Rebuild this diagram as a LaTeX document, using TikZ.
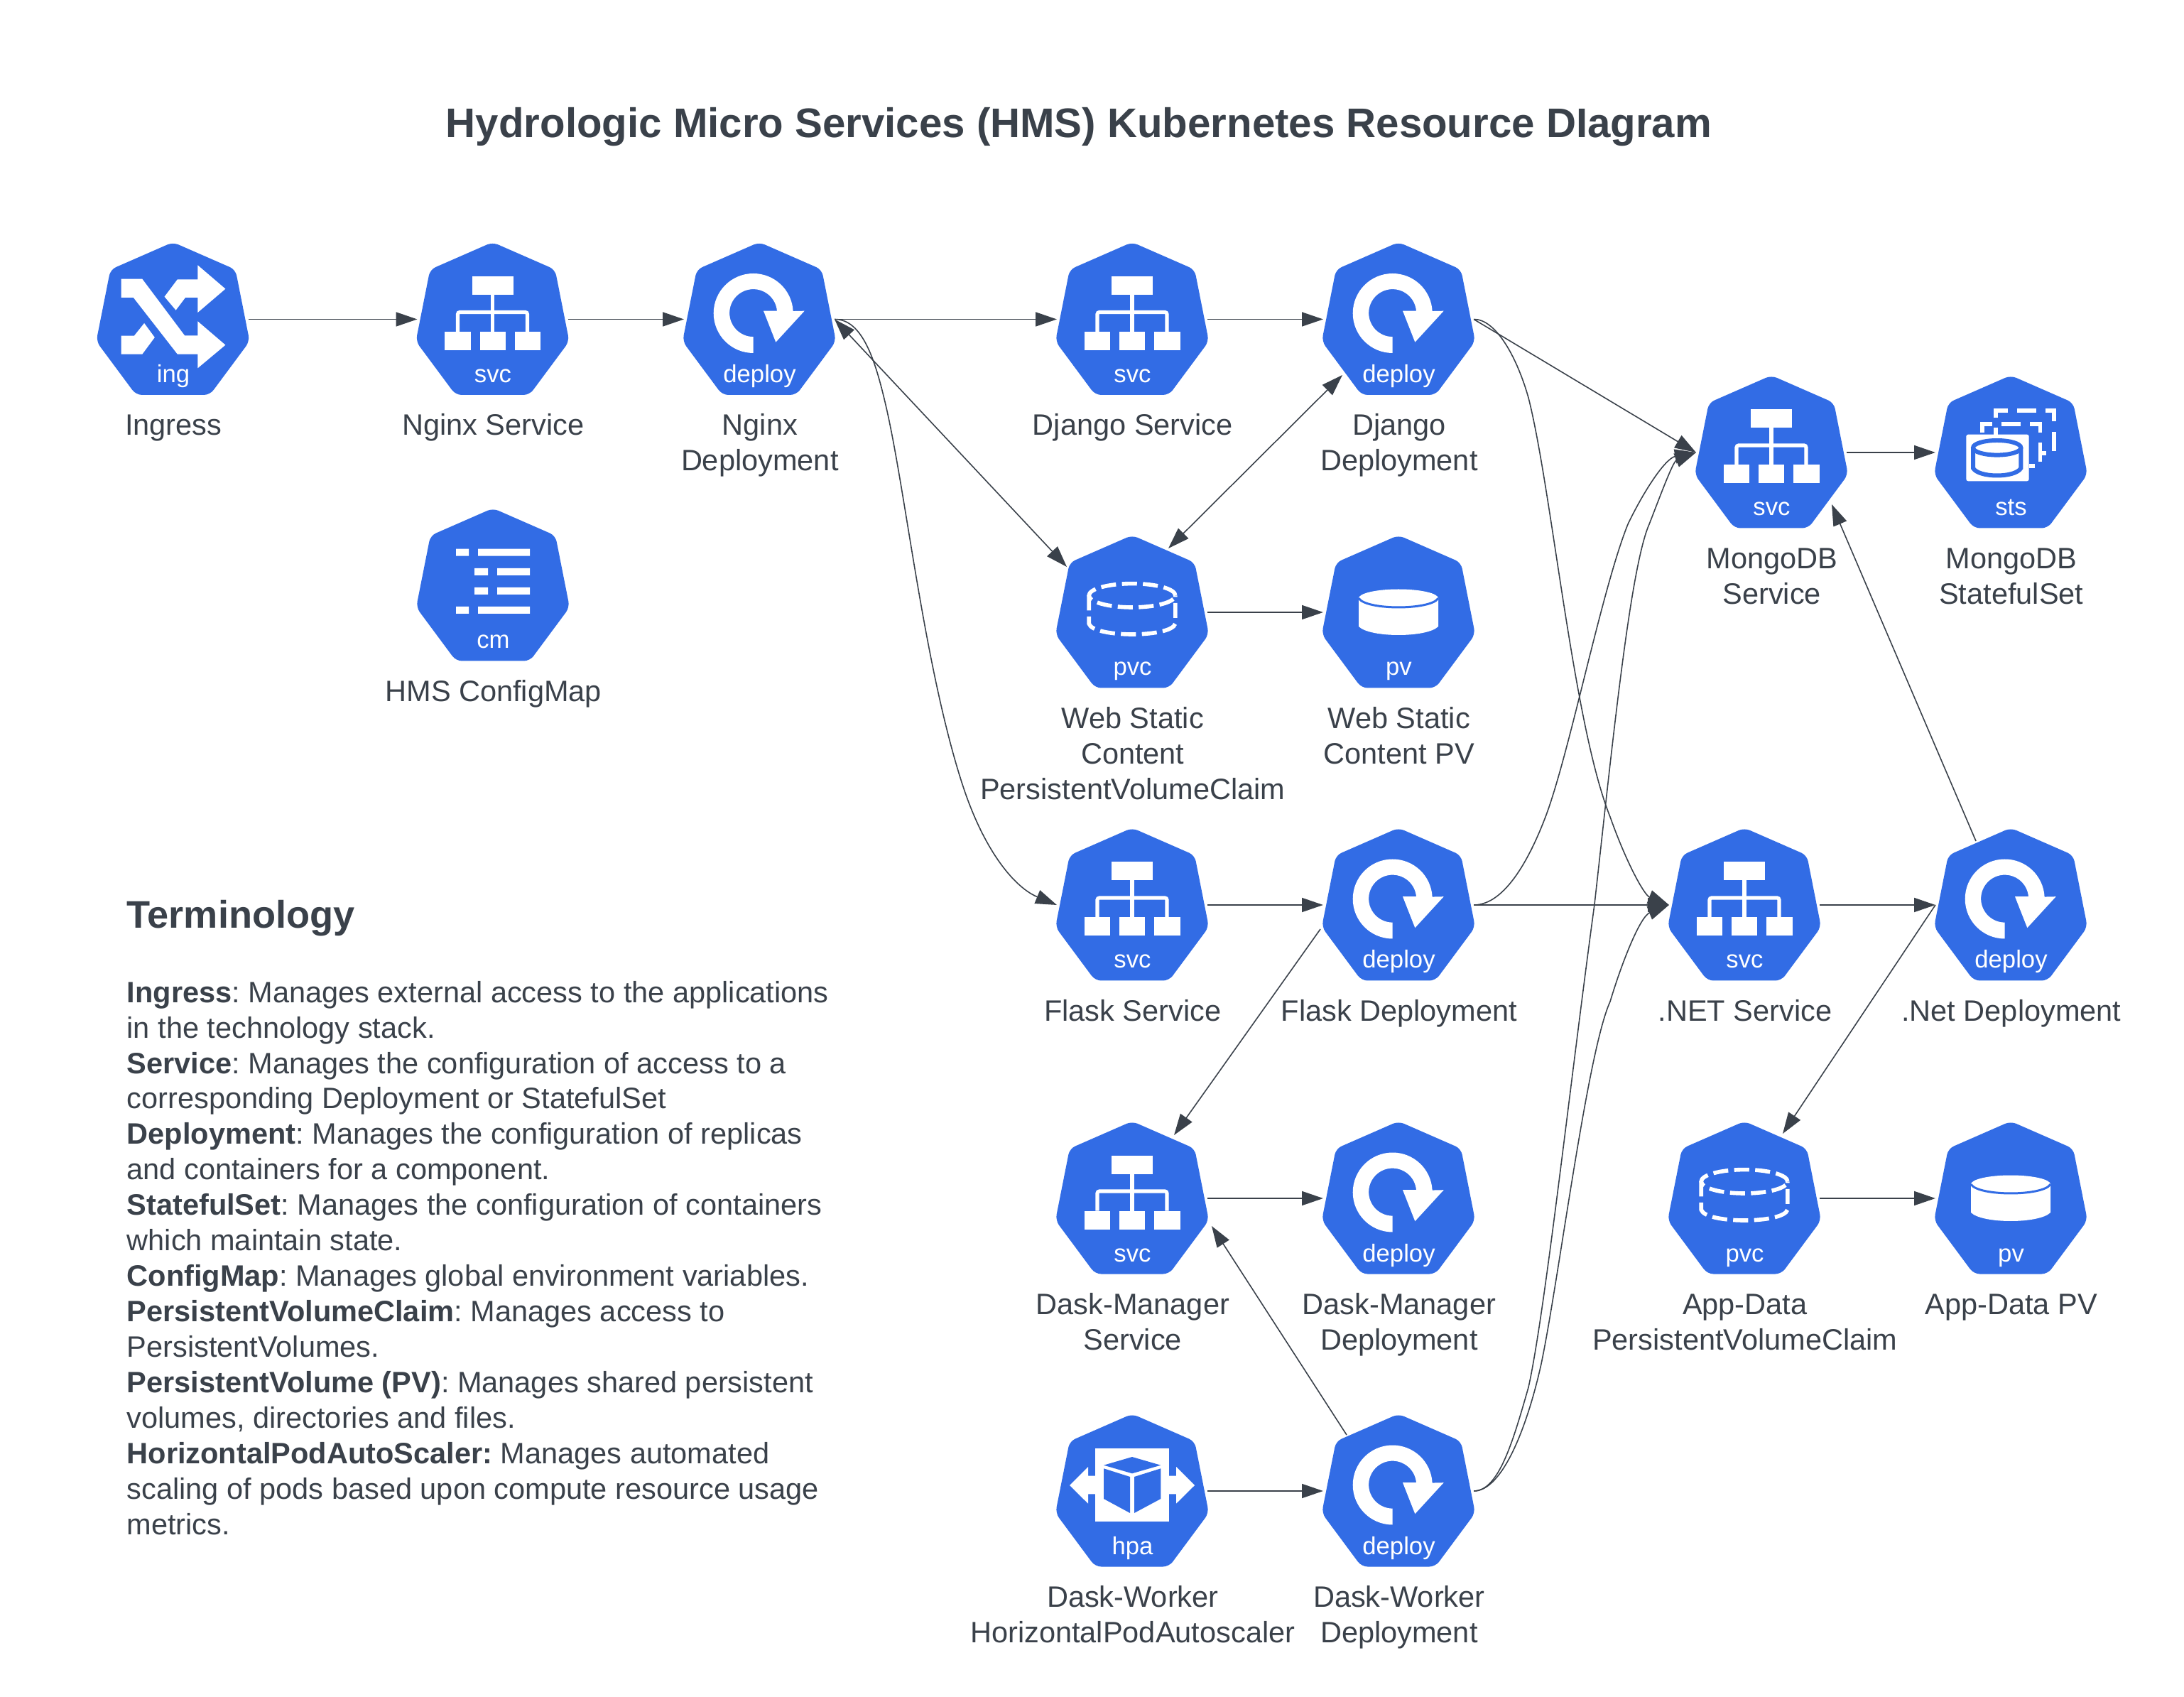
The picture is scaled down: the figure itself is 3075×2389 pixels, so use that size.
\documentclass[tikz,border=0pt]{standalone}
\usepackage{fontspec}
\setmainfont{Liberation Sans}
\usetikzlibrary{arrows.meta,calc}
\definecolor{kblue}{HTML}{326CE5}
\definecolor{ink}{HTML}{3A414A}
\tikzset{
  hexbox/.style={minimum width=2.12cm,minimum height=2.13cm,inner sep=0pt,outer sep=0pt},
  tagtext/.style={text=white,anchor=base,inner sep=0pt,font=\fontsize{9.87pt}{11pt}\selectfont},
  labeltext/.style={text=ink,anchor=north,inner sep=0pt,align=center,font=\fontsize{11.81pt}{14.2pt}\selectfont},
  conn/.style={draw=ink,line width=0.45pt,-{Triangle[length=8.5pt,width=5.7pt]}},
  conntwo/.style={draw=ink,line width=0.45pt,{Triangle[length=8.5pt,width=5.7pt]}-{Triangle[length=8.5pt,width=5.7pt]}},
  iconline/.style={draw=white,line width=1.6pt},
}
\newcommand{\hexshape}{\fill[kblue,rounded corners=2.4pt] (0,-108.5) -- (88,-70) -- (108,31) -- (52,106.5) -- (-52,106.5) -- (-108,31) -- (-88,-70) -- cycle;}
\newcommand{\iconsvc}{%
  \fill[white] (-29,-60.5) rectangle (29,-34.5);
  \fill[white] (-67.5,17.5) rectangle (-31,43.5);
  \fill[white] (-18,17.5) rectangle (18,43.5);
  \fill[white] (31,17.5) rectangle (67.5,43.5);
  \draw[white,line width=1.45pt] (0,-34.5) -- (0,17.5);
  \draw[white,line width=1.45pt,rounded corners=0.8pt] (-49,17.5) -- (-49,-10) -- (49,-10) -- (49,17.5);
}
\newcommand{\icondeploy}{%
  \fill[white] (-8.3,47.5) arc[start angle=90,end angle=357,radius=56] -- (63.7,-11.8) -- (23.3,32.2) -- (6,-11.8) -- (25,-11.8) arc[start angle=355,end angle=90,radius=33.5] -- cycle;
}
\newcommand{\iconing}{%
  \fill[white] (-73,-56.8) -- (-43.2,-56.8) -- (16.5,22.8) -- (34.9,22.8) -- (34.9,2.8) -- (73.9,36.2) -- (34.9,68.8) -- (34.9,49.2) -- (6.4,49.2) -- (-55.6,-30.5) -- (-73,-30.5) -- cycle;
  \fill[white] (-11.9,-31.8) -- (6.4,-56.2) -- (34.9,-56.2) -- (34.9,-76.2) -- (73.9,-42.8) -- (34.9,-9.5) -- (34.9,-30.5) -- (17.4,-30.5) -- (4.1,-12.8) -- cycle;
  \fill[white] (-73,23.2) -- (-54.6,23.2) -- (-40.4,5.5) -- (-25.7,25.5) -- (-43.2,49.2) -- (-73,49.2) -- cycle;
}
\newcommand{\iconcm}{%
  \fill[white] (-52,-51.3) rectangle (-34,-41.3) (-21,-51.3) rectangle (52,-41.3);
  \fill[white] (-26,-24) rectangle (-7,-14) (6,-24) rectangle (52,-14);
  \fill[white] (-26,3) rectangle (-7,13) (6,3) rectangle (52,13);
  \fill[white] (-52,30) rectangle (-34,40) (-21,30) rectangle (52,40);
}
\newcommand{\iconpvc}{%
  \draw[white,line width=1.6pt,dash pattern=on 6pt off 2.4pt] (0,-23.7) ellipse [x radius=60.8,y radius=-16.7];
  \draw[white,line width=1.6pt,dash pattern=on 6pt off 2.4pt] (-60.8,-23.7) -- (-60.8,16) .. controls (-55,36) and (55,36) .. (60.8,16) -- (60.8,-23.7);
}
\newcommand{\iconpv}{%
  \fill[white] (-56,-19.7) -- (-56,20) .. controls (-40,36) and (40,36) .. (56,20) -- (56,-19.7) -- cycle;
  \fill[white] (0,-19.7) ellipse [x radius=56,y radius=-12.8];
  \draw[kblue,line width=0.85pt] (-56,-19.7) .. controls (-45,-2.8) and (45,-2.8) .. (56,-19.7);
}
\newcommand{\iconhpa}{%
  \fill[white] (-52,-59.7) rectangle (52,43);
  \fill[white] (-88,-8) -- (-62,-34) -- (-62,-21.3) -- (-52,-21.3) -- (-52,4.3) -- (-62,4.3) -- (-62,17.7) -- cycle;
  \fill[white] (88,-8) -- (62,-34) -- (62,-21.3) -- (52,-21.3) -- (52,4.3) -- (62,4.3) -- (62,17.7) -- cycle;
  \fill[kblue] (0,-48) -- (40.3,-36.3) -- (0,-24.7) -- (-40,-36.3) -- cycle;
  \fill[kblue] (-40,-31.7) -- (-3,-20) -- (-3,31) -- (-40,11) -- cycle;
  \fill[kblue] (3,-20) -- (40.3,-31.7) -- (40.3,11) -- (3,31) -- cycle;
}
\newcommand{\iconsts}{%
  \fill[white,rounded corners=0.8pt] (-62.7,-25.3) rectangle (25.7,40.3);
  \draw[kblue,line width=1.7pt] (-53,-6.7) -- (-53,22) .. controls (-45,36) and (6.5,36) .. (14.4,22) -- (14.4,-6.7);
  \draw[kblue,line width=1.7pt] (-19.3,-6.7) ellipse [x radius=33.7,y radius=-10.3];
  \draw[iconline] (-40.3,-28) -- (-40.3,-40.3) -- (-26,-40.3);
  \draw[iconline] (-21,-35.3) -- (-21,-25.3);
  \draw[iconline] (-12.7,-40.3) -- (14,-40.3);
  \draw[iconline] (27.3,-40.3) -- (41.3,-40.3) -- (41.3,-28);
  \draw[iconline] (41.3,-13.7) -- (41.3,13);
  \draw[iconline] (25.7,18.7) -- (34,18.7);
  \draw[iconline] (41.3,0.7) -- (50,0.7);
  \draw[iconline] (-21,-48.7) -- (-21,-58.7) -- (-4.3,-58.7);
  \draw[iconline] (9,-58.7) -- (35.7,-58.7);
  \draw[iconline] (49,-58.7) -- (60.7,-58.7) -- (60.7,-43.7);
  \draw[iconline] (60.7,-28.7) -- (60.7,-2);
}
% name, x, y, icon, tag, label
\newcommand{\kube}[6]{%
  \node[hexbox] (#1) at (#2,#3) {};
  \begin{scope}[shift={(#2,#3)}]
    \hexshape
    #4
    \node[tagtext] (#1-tag) at (0.5,89) {#5};
    \node[labeltext] (#1-label) at (0.8,127.5) {\strut #6};
  \end{scope}
}
\begin{document}
\frenchspacing
\begin{tikzpicture}[x=0.01cm,y=-0.01cm]
\useasboundingbox (0,0) rectangle (3075,2389);
\fill[white] (0,0) rectangle (3075,2389);
\node[text=ink,anchor=base,inner sep=0pt,font=\fontsize{16.55pt}{20pt}\selectfont\bfseries] (title) at (1519,194) {Hydrologic Micro Services (HMS) Kubernetes Resource DIagram};
\kube{ing}{243.5}{449.5}{\iconing}{ing}{Ingress}
\kube{ngsvc}{693.5}{449.5}{\iconsvc}{svc}{Nginx Service}
\kube{ngdep}{1069}{449.5}{\icondeploy}{deploy}{Nginx\\Deployment}
\kube{djsvc}{1594}{449.5}{\iconsvc}{svc}{Django Service}
\kube{djdep}{1969}{449.5}{\icondeploy}{deploy}{Django\\Deployment}
\kube{cm}{694}{824}{\iconcm}{cm}{HMS ConfigMap}
\kube{webpvc}{1594}{862}{\iconpvc}{pvc}{Web Static\\Content\\PersistentVolumeClaim}
\kube{webpv}{1969}{862}{\iconpv}{pv}{Web Static\\Content PV}
\kube{mgsvc}{2494}{637}{\iconsvc}{svc}{MongoDB\\Service}
\kube{mgsts}{2831}{637}{\iconsts}{sts}{MongoDB\\StatefulSet}
\kube{flsvc}{1594}{1274}{\iconsvc}{svc}{Flask Service}
\kube{fldep}{1969}{1274}{\icondeploy}{deploy}{Flask Deployment}
\kube{ntsvc}{2456}{1274}{\iconsvc}{svc}{.NET Service}
\kube{ntdep}{2831}{1274}{\icondeploy}{deploy}{.Net Deployment}
\kube{dmsvc}{1594}{1687}{\iconsvc}{svc}{Dask-Manager\\Service}
\kube{dmdep}{1969}{1687}{\icondeploy}{deploy}{Dask-Manager\\Deployment}
\kube{apvc}{2456}{1687}{\iconpvc}{pvc}{App-Data\\PersistentVolumeClaim}
\kube{apv}{2831}{1687}{\iconpv}{pv}{App-Data PV}
\kube{hpa}{1594}{2099}{\iconhpa}{hpa}{Dask-Worker\\HorizontalPodAutoscaler}
\kube{dwdep}{1969}{2099}{\icondeploy}{deploy}{Dask-Worker\\Deployment}

\node[text=ink,anchor=base west,inner sep=0pt,font=\fontsize{15.4pt}{20pt}\selectfont\bfseries] (termhead) at (178,1307) {Terminology};
\node[text=ink,anchor=north west,inner sep=0pt,align=left,font=\fontsize{11.81pt}{14.2pt}\selectfont] (termbody) at (178,1375.5) {\strut\textbf{Ingress}: Manages external access to the applications\\
in the technology stack.\\
\textbf{Service}: Manages the configuration of access to a\\
corresponding Deployment or StatefulSet\\
\textbf{Deployment}: Manages the configuration of replicas\\
and containers for a component.\\
\textbf{StatefulSet}: Manages the configuration of containers\\
which maintain state.\\
\textbf{ConfigMap}: Manages global environment variables.\\
\textbf{PersistentVolumeClaim}: Manages access to\\
PersistentVolumes.\\
\textbf{PersistentVolume (PV)}: Manages shared persistent\\
volumes, directories and files.\\
\textbf{HorizontalPodAutoScaler:} Manages automated\\
scaling of pods based upon compute resource usage\\
metrics.};

% straight connectors
\draw[conn] (ing.east) -- (ngsvc.west);
\draw[conn] (ngsvc.east) -- (ngdep.west);
\draw[conn] (ngdep.east) -- (djsvc.west);
\draw[conn] (djsvc.east) -- (djdep.west);
\draw[conn] (webpvc.east) -- (webpv.west);
\draw[conn] (mgsvc.east) -- (mgsts.west);
\draw[conn] (flsvc.east) -- (fldep.west);
\draw[conn] (fldep.east) -- (ntsvc.west);
\draw[conn] (ntsvc.east) -- (ntdep.west);
\draw[conn] (dmsvc.east) -- (dmdep.west);
\draw[conn] (apvc.east) -- (apv.west);
\draw[conn] (hpa.east) -- (dwdep.west);
\draw[conn] (djdep.east) -- (mgsvc.west);
\draw[conntwo] (ngdep.east) -- ([shift={(-92,-64)}]webpvc.center);
\draw[conntwo] ([shift={(-79,78.5)}]djdep.center) -- ([shift={(51,-90)}]webpvc.center);
\draw[conn] ([shift={(-49,-90)}]ntdep.center) -- ([shift={(85,73)}]mgsvc.center);
\draw[conn] (ntdep.west) -- ([shift={(54,-91)}]apvc.center);
\draw[conn] ([shift={(-110,34)}]fldep.center) -- ([shift={(59,-89)}]dmsvc.center);
\draw[conn] ([shift={(-73,-79)}]dwdep.center) -- ([shift={(112,39)}]dmsvc.center);
% curved connectors
\draw[conn] (ngdep.east) .. controls (1215,449) and (1233,510) .. (1247,570) .. controls (1275,690) and (1300,930) .. (1353,1098) .. controls (1385,1200) and (1430,1250) .. (flsvc.west);
\draw[conn] (djdep.east) .. controls (2105,449) and (2135,500) .. (2152,560) .. controls (2185,690) and (2215,1020) .. (2267,1150) .. controls (2290,1215) and (2315,1260) .. (ntsvc.west);
\draw[conn] (fldep.east) .. controls (2120,1274) and (2155,1205) .. (2176,1150) .. controls (2210,1060) and (2255,830) .. (2292,738) .. controls (2315,690) and (2345,645) .. (mgsvc.west);
\draw[conn] (dwdep.east) .. controls (2110,2099) and (2130,2030) .. (2152,1953) .. controls (2175,1850) and (2210,1530) .. (2245,1273) .. controls (2270,1050) and (2295,800) .. (2322,738) .. controls (2335,705) and (2355,650) .. (mgsvc.west);
\draw[conn] (dwdep.east) .. controls (2115,2099) and (2150,2010) .. (2170,1920) .. controls (2195,1800) and (2235,1480) .. (2267,1410) .. controls (2285,1350) and (2310,1290) .. (ntsvc.west);
\end{tikzpicture}
\end{document}
